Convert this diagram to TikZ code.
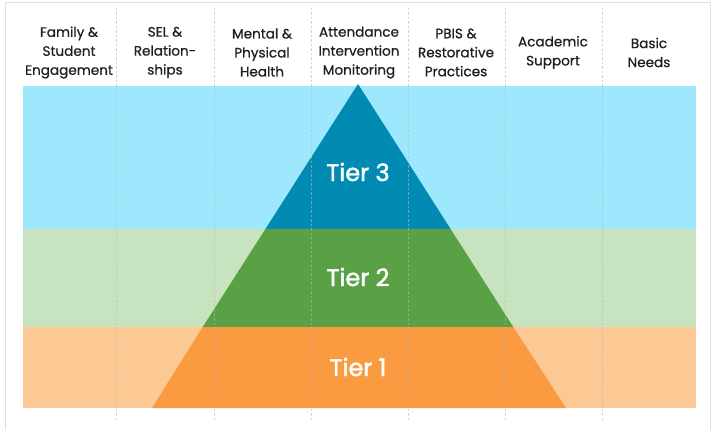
\documentclass[tikz,border=0pt]{standalone}
\usepackage{fontspec}
\setmainfont{Poppins}
\newfontfamily\headfont{Poppins}[FakeBold=0.7]
\newfontfamily\tierfont{Poppins}[FakeBold=1.8]
\begin{document}
\begin{tikzpicture}[x=1pt,y=-1pt,
  header/.style={align=center,font=\headfont\fontsize{13.6}{19}\selectfont,text=black!88,inner sep=0pt},
  tierlabel/.style={font=\tierfont\fontsize{24}{26}\selectfont,text=white,inner sep=0pt},
  colsep/.style={draw=black!28,dash pattern=on 2.5pt off 2pt,line width=0.8pt,opacity=0.6}]
\definecolor{bandblue}{RGB}{157,232,253}
\definecolor{bandgreen}{RGB}{200,227,192}
\definecolor{bandorange}{RGB}{252,200,148}
\definecolor{tierblue}{RGB}{2,139,178}
\definecolor{tiergreen}{RGB}{90,160,68}
\definecolor{tierorange}{RGB}{250,155,65}
\useasboundingbox (0,0) rectangle (712,430);
% outer frame
\draw[black!12,line width=1pt] (5.5,432) -- (5.5,2.5) -- (710,2.5) -- (710,432);
% background bands
\fill[bandblue]   (23,86)  rectangle (696,229);
\fill[bandgreen]  (23,229) rectangle (696,327);
\fill[bandorange] (23,327) rectangle (696,408);
% pyramid tiers
\fill[tierblue]   (358,84) -- (450.6,229) -- (265.4,229) -- cycle;
\fill[tiergreen]  (265.4,229) -- (450.6,229) -- (513.3,327) -- (202.7,327) -- cycle;
\fill[tierorange] (202.7,327) -- (513.3,327) -- (566,408) -- (152,408) -- cycle;
% column separators
\foreach \x in {116,214,311,408,505,602}
  \draw[colsep] (\x,8) -- (\x,420);
% column headers
\node[header] (h1) at (69,52.5)  {Family \&\\Student\\Engagement};
\node[header] (h2) at (165,52.5) {SEL \&\\Relation-\\ships};
\node[header] (h3) at (262,52.5) {Mental \&\\Physical\\Health};
\node[header] (h4) at (359,52.5) {Attendance\\Intervention\\Monitoring};
\node[header] (h5) at (456,52.5) {PBIS \&\\Restorative\\Practices};
\node[header] (h6) at (553,52.5) {Academic\\Support};
\node[header] (h7) at (649,52.5) {Basic\\Needs};
% tier labels
\node[tierlabel] (t3) at (358,172) {Tier 3};
\node[tierlabel] (t2) at (358,277) {Tier 2};
\node[tierlabel] (t1) at (358,367) {Tier 1};
\end{tikzpicture}
\end{document}
